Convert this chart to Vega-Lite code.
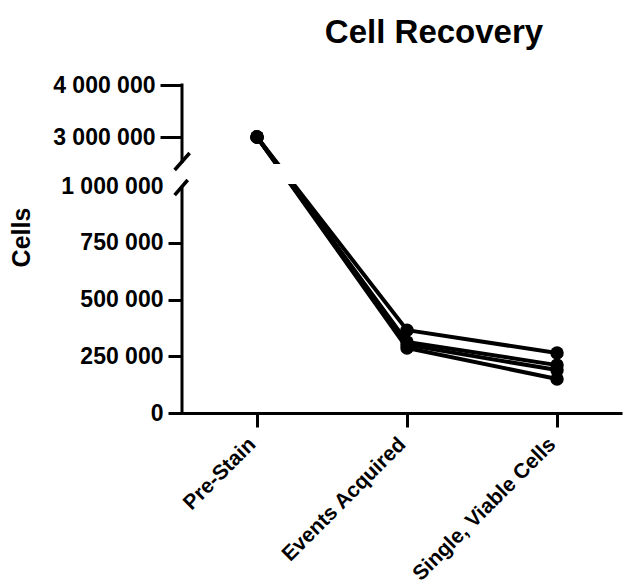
{
  "$schema": "https://vega.github.io/schema/vega-lite/v6.json",
  "width": 440,
  "height": 328,
  "autosize": {"type": "none"},
  "padding": {"left": 182, "top": 85, "right": 5, "bottom": 173},
  "background": "white",
  "title": {"text": "Cell Recovery", "font": "Liberation Sans", "fontSize": 33, "fontWeight": "bold", "color": "black", "anchor": "middle", "frame": "group", "dx": 32, "baseline": "alphabetic", "offset": -2},
  "config": {
    "view": {"stroke": null},
    "axis": {"labelFont": "Liberation Sans", "labelFontWeight": "bold", "labelColor": "black", "titleFont": "Liberation Sans", "titleFontWeight": "bold", "titleColor": "black", "tickColor": "black", "domainColor": "black", "grid": false}
  },
  "datasets": {
    "cells": [
      {"series": "A", "stage": 0, "cells": 3000000},
      {"series": "A", "stage": 1, "cells": 365000},
      {"series": "A", "stage": 2, "cells": 264000},
      {"series": "B", "stage": 0, "cells": 3000000},
      {"series": "B", "stage": 1, "cells": 313000},
      {"series": "B", "stage": 2, "cells": 211000},
      {"series": "C", "stage": 0, "cells": 3000000},
      {"series": "C", "stage": 1, "cells": 300000},
      {"series": "C", "stage": 2, "cells": 189000},
      {"series": "D", "stage": 0, "cells": 3000000},
      {"series": "D", "stage": 1, "cells": 286000},
      {"series": "D", "stage": 2, "cells": 150000}
    ],
    "gap": [{"x": -0.45, "x2": 2.43, "y": 1080000, "y2": 1900000}],
    "axisLines": [
      {"x": -0.5, "x2": -0.5, "y": 0, "y2": 993000},
      {"x": -0.5, "x2": -0.5, "y": 2000000, "y2": 4000000}
    ],
    "slashes": [
      {"x": -0.549, "x2": -0.449, "y": 1653000, "y2": 2347000},
      {"x": -0.549, "x2": -0.462, "y": 960000, "y2": 1245000}
    ]
  },
  "layer": [
    {
      "data": {"name": "cells"},
      "mark": {"type": "line", "color": "black", "strokeWidth": 4, "strokeJoin": "round"},
      "encoding": {
        "x": {"field": "stage", "type": "quantitative",
          "scale": {"domain": [-0.5, 2.433], "nice": false, "zero": false},
          "axis": {"values": [0, 1, 2], "labelExpr": "['Pre-Stain', 'Events Acquired', 'Single, Viable Cells'][datum.value]", "title": null, "grid": false, "labelAngle": -45, "labelAlign": "right", "labelBaseline": "middle", "labelFontSize": 21, "labelPadding": 14, "labelOffset": -5, "labelLimit": 0, "tickSize": 14, "tickWidth": 3, "domainWidth": 3, "labelFlush": false, "labelOverlap": false, "labelBound": false}},
        "y": {"field": "cells", "type": "quantitative",
          "scale": {"domain": [0, 1000000, 3000000, 4000000], "range": [328, 101, 52, 0], "nice": false, "zero": false},
          "axis": {"values": [0, 250000, 500000, 750000, 1000000, 3000000, 4000000], "labelExpr": "replace(format(datum.value, ','), regexp(',', 'g'), ' ')", "title": "Cells", "grid": false, "domain": false, "tickSize": {"condition": {"test": "datum.value >= 3000000", "value": 22}, "value": 14}, "tickWidth": 3, "tickOpacity": {"condition": {"test": "datum.value == 1000000", "value": 0}, "value": 1}, "labelFontSize": 23, "labelPadding": 5, "labelLimit": 0, "titleFontSize": 25, "titlePadding": 18, "titleY": 152, "labelOverlap": false, "labelFlush": false}},
        "detail": {"field": "series"}
      }
    },
    {
      "data": {"name": "gap"},
      "mark": {"type": "rect", "color": "white"},
      "encoding": {
        "x": {"field": "x", "type": "quantitative"},
        "x2": {"field": "x2"},
        "y": {"field": "y", "type": "quantitative"},
        "y2": {"field": "y2"}
      }
    },
    {
      "data": {"name": "cells"},
      "mark": {"type": "circle", "size": 180, "color": "black", "opacity": 1},
      "encoding": {
        "x": {"field": "stage", "type": "quantitative"},
        "y": {"field": "cells", "type": "quantitative"}
      }
    },
    {
      "data": {"name": "axisLines"},
      "mark": {"type": "rule", "color": "black", "strokeWidth": 3, "strokeCap": "square"},
      "encoding": {
        "x": {"field": "x", "type": "quantitative"},
        "x2": {"field": "x2"},
        "y": {"field": "y", "type": "quantitative"},
        "y2": {"field": "y2"}
      }
    },
    {
      "data": {"name": "slashes"},
      "mark": {"type": "rule", "color": "black", "strokeWidth": 3.5},
      "encoding": {
        "x": {"field": "x", "type": "quantitative"},
        "x2": {"field": "x2"},
        "y": {"field": "y", "type": "quantitative"},
        "y2": {"field": "y2"}
      }
    }
  ]
}
